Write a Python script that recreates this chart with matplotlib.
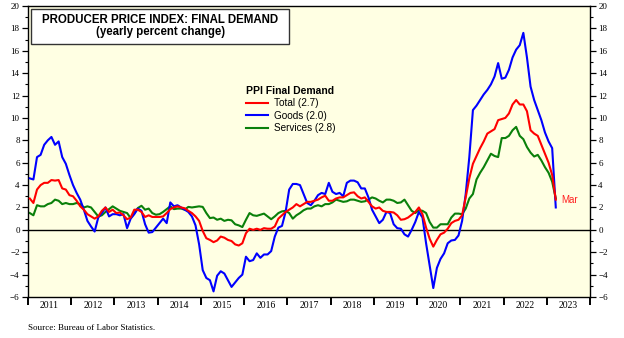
import numpy as np
import matplotlib
matplotlib.use("Agg")
import matplotlib.pyplot as plt
from matplotlib.patches import Rectangle
from matplotlib.ticker import MultipleLocator, FixedLocator, NullFormatter, FixedFormatter

# Monthly yearly % change, Jan 2011 .. Mar 2023
start_year = 2011
total = [2.8, 2.4, 3.6, 4.0, 4.2, 4.2, 4.45, 4.4, 4.45, 3.7, 3.6, 3.1,
         3.0, 2.6, 2.1, 1.8, 1.4, 1.2, 1.0, 1.2, 1.7, 2.0, 1.6, 1.8,
         1.5, 1.55, 1.3, 0.95, 1.1, 1.8, 1.8, 1.6, 1.15, 1.3, 1.15, 1.15,
         1.15, 1.2, 1.5, 1.85, 2.0, 2.1, 2.0, 1.93, 1.7, 1.5, 1.2, 0.8,
         -0.1, -0.75, -0.9, -1.1, -0.95, -0.6, -0.7, -0.9, -1.0, -1.3, -1.4, -1.2,
         -0.3, 0.1, 0.0, 0.1, 0.0, 0.15, 0.1, 0.1, 0.3, 1.0, 1.3, 1.6,
         1.8, 2.0, 2.3, 2.1, 2.3, 2.5, 2.5, 2.6, 2.7, 2.9, 3.05, 2.6,
         2.6, 2.8, 2.9, 2.9, 3.1, 3.3, 3.35, 3.0, 2.8, 2.9, 2.5, 2.1,
         1.9, 2.0, 1.7, 1.6, 1.6, 1.55, 1.3, 0.9, 0.95, 1.1, 1.35, 1.6,
         2.0, 1.4, 0.2, -0.8, -1.5, -0.9, -0.4, -0.25, 0.1, 0.6, 0.8, 0.9,
         1.3, 2.9, 4.6, 5.9, 6.6, 7.3, 7.9, 8.6, 8.8, 9.0, 9.8, 9.9,
         10.0, 10.4, 11.2, 11.6, 11.2, 11.2, 10.6, 8.9, 8.6, 8.4, 7.6, 6.8,
         6.0, 4.9, 2.7]
goods = [4.6, 4.5, 6.5, 6.7, 7.6, 8.0, 8.3, 7.6, 7.9, 6.5, 5.9, 4.9,
         4.0, 3.3, 2.7, 1.8, 0.8, 0.3, -0.15, 1.1, 1.5, 2.0, 1.2, 1.4,
         1.4, 1.3, 1.4, 0.15, 1.0, 1.4, 1.9, 1.7, 0.5, -0.25, -0.2, 0.2,
         0.6, 1.0, 0.6, 2.45, 2.1, 2.2, 2.0, 1.8, 1.6, 1.2, 0.4, -1.3,
         -3.6, -4.3, -4.5, -5.5, -4.1, -3.7, -3.9, -4.5, -5.1, -4.7, -4.3, -4.0,
         -2.4, -2.8, -2.7, -2.1, -2.5, -2.2, -2.2, -1.9, -0.6, 0.2, 0.35, 1.6,
         3.6, 4.1, 4.1, 4.0, 3.2, 2.4, 2.2, 2.6, 3.1, 3.3, 3.2, 4.2,
         3.4, 3.2, 3.3, 3.0, 4.2, 4.4, 4.4, 4.25, 3.7, 3.7, 2.9, 1.8,
         1.2, 0.6, 0.9, 1.6, 1.5, 0.5, 0.15, 0.1, -0.4, -0.6, 0.0, 0.7,
         1.6, 1.1, -1.2, -3.2, -5.2, -3.4, -2.6, -2.1, -1.2, -0.95, -0.9, -0.5,
         0.8, 3.2, 6.5, 10.7, 11.1, 11.6, 12.1, 12.5, 13.0, 13.7, 14.9, 13.5,
         13.6, 14.3, 15.4, 16.1, 16.5, 17.6, 15.4, 12.8, 11.6, 10.7, 9.8, 8.7,
         7.9, 7.3, 2.0]
services = [1.5, 1.3, 2.2, 2.1, 2.1, 2.3, 2.4, 2.7, 2.6, 2.3, 2.4, 2.3,
            2.3, 2.4, 2.3, 2.0, 2.1, 2.0, 1.6, 1.2, 1.3, 1.6, 1.85, 2.1,
            1.9, 1.7, 1.6, 1.5, 1.05, 1.5, 1.95, 2.15, 1.8, 1.9, 1.5, 1.35,
            1.4, 1.6, 1.85, 2.1, 1.85, 1.9, 1.9, 1.8, 2.05, 2.0, 2.05, 2.1,
            2.05, 1.5, 1.05, 1.1, 0.9, 1.0, 0.8, 0.9, 0.85, 0.5, 0.4, 0.25,
            0.9, 1.5, 1.3, 1.25, 1.35, 1.45, 1.2, 0.95, 1.2, 1.5, 1.65, 1.7,
            1.5, 1.0, 1.3, 1.5, 1.75, 1.9, 1.9, 2.1, 2.2, 2.1, 2.3, 2.3,
            2.45, 2.7, 2.6, 2.5, 2.55, 2.7, 2.7, 2.6, 2.5, 2.55, 2.7, 2.9,
            2.8, 2.6, 2.45, 2.7, 2.7, 2.6, 2.4, 2.45, 2.7, 2.2, 1.7, 1.5,
            1.75, 1.7, 1.5, 0.7, 0.2, 0.2, 0.5, 0.5, 0.5, 1.1, 1.45, 1.45,
            1.4, 1.9, 2.8, 3.2, 4.5, 5.1, 5.6, 6.2, 6.8, 6.6, 6.5, 8.2,
            8.2, 8.4, 8.9, 9.2, 8.4, 8.1, 7.4, 6.9, 6.55, 6.7, 6.2, 5.6,
            5.1, 4.3, 2.8]
years = list(range(2011, 2024))
last_month_label = "Mar"

n = len(total)
x = start_year + (np.arange(n) + 0.5) / 12.0

fig = plt.figure(figsize=(6.24, 3.38), dpi=100)
ax = fig.add_axes([28/624, 1 - 297/338, 562/624, 291/338])
ax.set_facecolor("#FFFFE3")

ax.plot(x, total, color="#FF0000", lw=1.5, label="Total (2.7)", zorder=4)
ax.plot(x, goods, color="#0000FF", lw=1.5, label="Goods (2.0)", zorder=3)
ax.plot(x, services, color="#0A800A", lw=1.5, label="Services (2.8)", zorder=2)
ax.axhline(0, color="black", lw=1.0, zorder=1)

ax.set_xlim(2011, 2024)
ax.set_ylim(-6, 20)

serif = "Liberation Serif"
sans = "Liberation Sans"

# y axis both sides
ax.yaxis.set_major_locator(MultipleLocator(2))
ax.yaxis.set_minor_locator(MultipleLocator(1))
ax.tick_params(axis="y", which="major", direction="out", length=4.5, width=0.9,
               labelsize=6.5, left=True, right=True, labelleft=True, labelright=True, pad=1.5)
ax.tick_params(axis="y", which="minor", direction="out", length=2.5, width=0.8,
               left=True, right=True)
for lab in ax.get_yticklabels():
    lab.set_fontfamily(serif)

# x axis: year boundary ticks, labels centred in each year
ax.xaxis.set_major_locator(FixedLocator(list(range(2011, 2025))))
ax.xaxis.set_major_formatter(NullFormatter())
ax.xaxis.set_minor_locator(FixedLocator([y + 0.5 for y in years]))
ax.xaxis.set_minor_formatter(FixedFormatter([str(y) for y in years]))
ax.tick_params(axis="x", which="major", direction="out", length=6, width=1.4)
ax.tick_params(axis="x", which="minor", length=0, labelsize=7, pad=3)
for lab in ax.get_xticklabels(minor=True):
    lab.set_fontfamily(serif)

for s in ax.spines.values():
    s.set_linewidth(1.0)
    s.set_color("black")

# title box
ax.add_patch(Rectangle((0.006, 0.869), 0.458, 0.121, transform=ax.transAxes,
                       facecolor="white", edgecolor="#333333", lw=1.0, zorder=5))
ax.text(0.235, 0.951, "PRODUCER PRICE INDEX: FINAL DEMAND", transform=ax.transAxes,
        ha="center", va="center", fontsize=8.3, fontweight="bold", family=sans, zorder=6)
ax.text(0.235, 0.910, "(yearly percent change)", transform=ax.transAxes,
        ha="center", va="center", fontsize=8.3, fontweight="bold", family=sans, zorder=6)

leg = ax.legend(loc="upper left", bbox_to_anchor=(0.375, 0.75), frameon=False,
                title="PPI Final Demand", prop={"family": sans, "size": 7.2},
                handlelength=2.2, handletextpad=0.6, labelspacing=0.25, borderpad=0.2)
leg.get_title().set_fontweight("bold")
leg.get_title().set_fontfamily(sans)
leg.get_title().set_fontsize(7.5)
leg._legend_box.align = "left"

ax.annotate(last_month_label, xy=(x[-1], total[-1]), xytext=(4, 0), textcoords="offset points",
            color="#FF2020", fontsize=7, family=sans, va="center", ha="left")

fig.text(28/624, 1 - 328/338, "Source: Bureau of Labor Statistics.", fontsize=6.5,
         family=serif, ha="left", va="center")

fig.savefig("out.png", dpi=100)
